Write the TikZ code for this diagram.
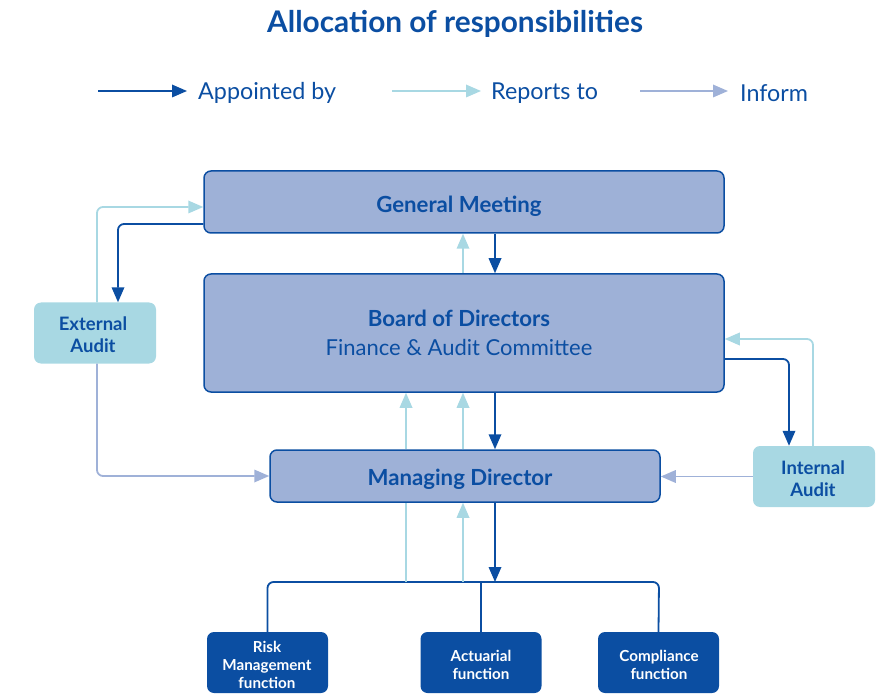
\documentclass[tikz,border=0pt]{standalone}
\usepackage{fontspec}
\setmainfont{Lato}
\usetikzlibrary{arrows.meta}
\definecolor{dkblue}{HTML}{0B4EA2}
\definecolor{boxfill}{HTML}{9EB1D7}
\definecolor{cyanfill}{HTML}{A8D8E3}
\definecolor{lavender}{HTML}{9FB1D8}
\tikzset{
  bigbox/.style={draw=dkblue, line width=1.5pt, fill=boxfill, rounded corners=7pt,
    inner sep=0pt},
  auditbox/.style={fill=cyanfill, rounded corners=7pt, inner sep=0pt,
    minimum width=122pt, minimum height=61pt},
  audittext/.style={text=dkblue, align=center, inner sep=0pt,
    font=\bfseries\fontsize{18.5}{22}\selectfont},
  funcbox/.style={fill=dkblue, rounded corners=7pt, inner sep=0pt,
    minimum width=121pt, minimum height=61pt},
  functext/.style={text=white, align=center, inner sep=0pt,
    font=\bfseries\fontsize{15.2}{18}\selectfont},
  tip/.style={-{Triangle[length=15pt,width=12.5pt]}},
  appt/.style={draw=dkblue, line width=1.8pt},
  rep/.style={draw=cyanfill, line width=1.8pt},
  inf/.style={draw=lavender, line width=1.8pt},
  legendtext/.style={anchor=west, inner sep=0pt, text=dkblue,
    font=\fontsize{23.3}{26}\selectfont},
  bigtext/.style={text=dkblue, inner sep=0pt, font=\bfseries\fontsize{22.2}{26}\selectfont}
}
\begin{document}
\begin{tikzpicture}[x=1pt,y=-1pt]
\useasboundingbox (0,0) rectangle (876,695);

% title
\node[text=dkblue, font=\bfseries\fontsize{29.8}{32}\selectfont] (title) at (455,24) {Allocation of responsibilities};

% legend
\coordinate (la1) at (98,91);  \coordinate (lb1) at (187,91);
\coordinate (la2) at (392,91); \coordinate (lb2) at (481,91);
\coordinate (la3) at (640,91); \coordinate (lb3) at (728,91);
\draw[appt,tip] (la1) -- (lb1);
\draw[rep,tip] (la2) -- (lb2);
\draw[inf,tip] (la3) -- (lb3);
\node[legendtext] (lt1) at (198,93) {Appointed by};
\node[legendtext] (lt2) at (491,93) {Reports to};
\node[legendtext] (lt3) at (740,93) {Inform};

% main boxes
\node[bigbox, minimum width=520pt, minimum height=62pt] (gm) at (464,202) {};
\node[bigtext] (gmt) at (459,206) {General Meeting};
\node[bigbox, minimum width=520pt, minimum height=118pt] (bod) at (464,333) {};
\node[bigtext] (bodt) at (459,318) {Board of Directors};
\node[text=dkblue, inner sep=0pt, font=\fontsize{22}{26}\selectfont] (bodc) at (459,347) {Finance \& Audit Committee};
\node[bigbox, minimum width=390pt, minimum height=52pt] (md) at (465,476) {};
\node[bigtext] (mdt) at (460,479) {Managing Director};

% audit boxes
\node[auditbox] (ea) at (95,333) {};
\node[audittext] (eat) at (93,335) {External\\Audit};
\node[auditbox] (ia) at (814,476.5) {};
\node[audittext] (iat) at (813,478.5) {Internal\\Audit};

% function boxes
\node[funcbox] (rm) at (267.5,662.5) {};
\node[functext] (rmt) at (267,665) {Risk\\Management\\function};
\node[funcbox] (af) at (481,662.5) {};
\node[functext] (aft) at (481,665) {Actuarial\\function};
\node[funcbox] (cf) at (658.5,662.5) {};
\node[functext] (cft) at (659,665) {Compliance\\function};

% General Meeting <-> Board
\draw[appt,tip] ([xshift=31pt]gm.south) -- ([xshift=31pt]bod.north);
\draw[rep,tip] ([xshift=-1pt]bod.north) -- ([xshift=-1pt]gm.south);

% External Audit
\draw[appt,tip,rounded corners=6pt] ([yshift=-22pt]gm.west) -| ([xshift=23pt]ea.north);
\draw[rep,tip,rounded corners=6pt] ([xshift=2pt]ea.north) |- ([yshift=-5pt]gm.west);
\draw[inf,tip,rounded corners=6pt] ([xshift=2pt]ea.south) |- (md.west);

% Internal Audit
\draw[appt,tip,rounded corners=6pt] ([yshift=-26pt]bod.east) -| ([xshift=-25pt]ia.north);
\draw[rep,tip,rounded corners=6pt] ([xshift=-1pt]ia.north) |- ([yshift=-6pt]bod.east);
\draw[inf,tip] (ia.west) -- (ia.west -| md.east);

% Board <-> Managing Director
\coordinate (c1) at ([xshift=31pt]bod.south);
\coordinate (c2) at ([xshift=-58pt]bod.south);
\coordinate (c3) at ([xshift=-1pt]bod.south);
\draw[appt,tip] (c1) -- (c1 |- md.north);
\draw[rep,tip] (c2 |- md.north) -- (c2);
\draw[rep,tip] (c3 |- md.north) -- (c3);

% Managing Director and the key functions
\coordinate (busR) at (659,582);
\draw[appt,rounded corners=6pt] (rm.north) |- (busR) -- (cf.north);
\draw[appt] (af.north) -- (af.north |- busR);
\draw[appt,tip] (c1 |- md.south) -- (c1 |- busR);
\draw[rep] (c2 |- busR) -- (c2 |- md.south);
\draw[rep,tip] (c3 |- busR) -- (c3 |- md.south);
\end{tikzpicture}
\end{document}
